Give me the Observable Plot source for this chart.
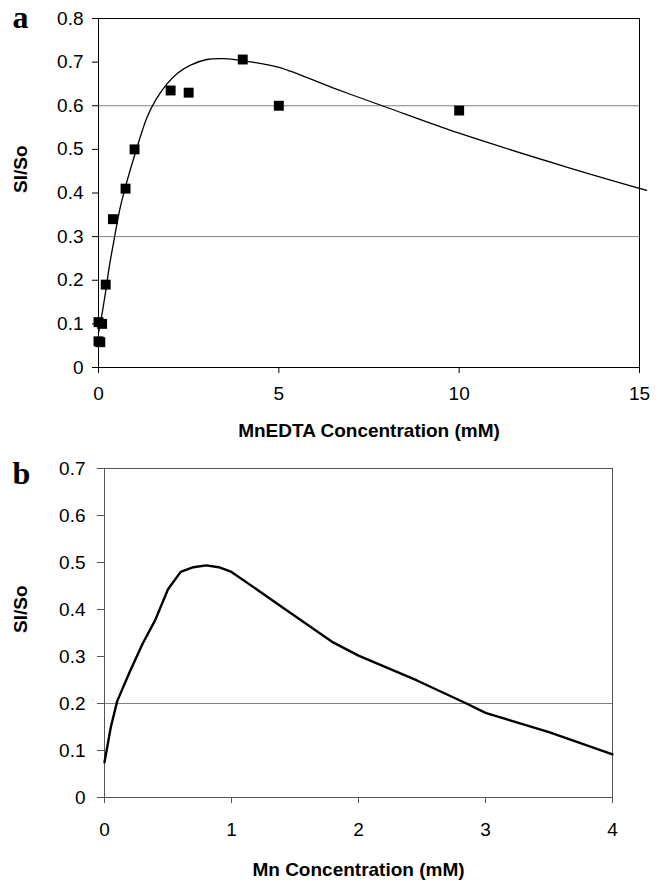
<!DOCTYPE html>
<html><head><meta charset="utf-8">
<script src="https://cdn.jsdelivr.net/npm/d3@7"></script>
<script src="https://cdn.jsdelivr.net/npm/@observablehq/plot@0.6"></script>
<style>body{margin:0;background:#fff} #chart svg{display:block}</style>
</head><body><div id="chart"></div>
<script>
// Panel a: measured points
const aPointsX = [0, 0.1, 0, 0.05, 0.2, 0.4, 0.75, 1, 2, 2.5, 4, 5, 10];
const aPointsY = [0.104, 0.1, 0.06, 0.058, 0.19, 0.34, 0.41, 0.5, 0.635, 0.63, 0.706, 0.6, 0.589];
// Panel a: fitted curve
const aFitX = [0, 0.05, 0.2, 0.3, 0.4, 0.6, 0.8, 1.0, 1.35, 1.6, 1.9, 2.2, 2.55, 3.0, 3.5, 4, 5, 6.5, 8, 10, 13, 15.2];
const aFitY = [0.08, 0.1, 0.175, 0.232, 0.278, 0.366, 0.43, 0.486, 0.574, 0.615, 0.65, 0.675, 0.693, 0.706, 0.708, 0.703, 0.688, 0.641, 0.596, 0.537, 0.459, 0.406];
const aXTicks = [0, 5, 10, 15];
const aYTicks = [0, 0.1, 0.2, 0.3, 0.4, 0.5, 0.6, 0.7, 0.8];
const aGrid = [0.3, 0.6];

// Panel b: curve
const bX = [0, 0.05, 0.1, 0.2, 0.3, 0.4, 0.5, 0.6, 0.7, 0.8, 0.9, 1.0, 1.4, 1.8, 2.0, 2.46, 2.85, 3.0, 3.5, 4.0];
const bY = [0.075, 0.15, 0.205, 0.268, 0.327, 0.378, 0.443, 0.48, 0.49, 0.494, 0.49, 0.48, 0.405, 0.33, 0.302, 0.249, 0.2, 0.18, 0.139, 0.092];
const bXTicks = [0, 1, 2, 3, 4];
const bYTicks = [0, 0.1, 0.2, 0.3, 0.4, 0.5, 0.6, 0.7];
const bGrid = [0.2];

const fmt = d => d === 0 ? "0" : d.toFixed(1);
const style = {fontSize: "19px", fontFamily: "'Liberation Sans', Arial, sans-serif", color: "black", background: "white", overflow: "visible"};

const aPts = aPointsX.map((x, i) => ({x, y: aPointsY[i]}));
const aFit = aFitX.map((x, i) => ({x, y: aFitY[i]}));
const bLine = bX.map((x, i) => ({x, y: bY[i]}));

const plotA = Plot.plot({
  width: 666, height: 440,
  marginTop: 18, marginBottom: 73, marginLeft: 98, marginRight: 27,
  x: {domain: [0, 15]}, y: {domain: [0, 0.8]},
  style,
  marks: [
    Plot.ruleY(aGrid, {stroke: "#808080", strokeWidth: 1}),
    Plot.frame({stroke: "black"}),
    Plot.axisX({ticks: aXTicks, tickSize: 6, tickPadding: 13, label: null, tickFormat: d => String(d)}),
    Plot.axisY({ticks: aYTicks, tickSize: 6, tickPadding: 9, label: null, tickFormat: fmt}),
    Plot.line(aFit, {x: "x", y: "y", curve: "catmull-rom", stroke: "black", strokeWidth: 1.3}),
    Plot.dot(aPts, {x: "x", y: "y", symbol: "square", r: 5.6, fill: "black", stroke: "none"}),
    Plot.text(["SI/So"], {text: d => d, frameAnchor: "left", dx: -78, rotate: -90, fontWeight: "bold"}),
    Plot.text(["MnEDTA Concentration (mM)"], {text: d => d, frameAnchor: "bottom", dy: 69, fontWeight: "bold"}),
    Plot.text(["a"], {text: d => d, frameAnchor: "top-left", dx: -86, dy: 9, textAnchor: "start", lineAnchor: "bottom", fontFamily: "'Liberation Serif', 'Times New Roman', serif", fontWeight: "bold", fontSize: 32})
  ]
});

const plotB = Plot.plot({
  width: 666, height: 444,
  marginTop: 28, marginBottom: 87, marginLeft: 104, marginRight: 54,
  x: {domain: [0, 4]}, y: {domain: [0, 0.7]},
  style,
  marks: [
    Plot.ruleY(bGrid, {stroke: "#808080", strokeWidth: 1}),
    Plot.frame({stroke: "#555"}),
    Plot.axisX({ticks: bXTicks, tickSize: 6, tickPadding: 19, label: null, tickFormat: d => String(d), stroke: "#555"}),
    Plot.axisY({ticks: bYTicks, tickSize: 7, tickPadding: 12, label: null, tickFormat: fmt, stroke: "#555"}),
    Plot.line(bLine, {x: "x", y: "y", curve: "linear", stroke: "black", strokeWidth: 2.4}),
    Plot.text(["SI/So"], {text: d => d, frameAnchor: "left", dx: -84, rotate: -90, fontWeight: "bold"}),
    Plot.text(["Mn Concentration (mM)"], {text: d => d, frameAnchor: "bottom", dy: 78, fontWeight: "bold"}),
    Plot.text(["b"], {text: d => d, frameAnchor: "top-left", dx: -92, dy: 15, textAnchor: "start", lineAnchor: "bottom", fontFamily: "'Liberation Serif', 'Times New Roman', serif", fontWeight: "bold", fontSize: 32})
  ]
});

document.getElementById("chart").append(plotA, plotB);
</script>
</body></html>
